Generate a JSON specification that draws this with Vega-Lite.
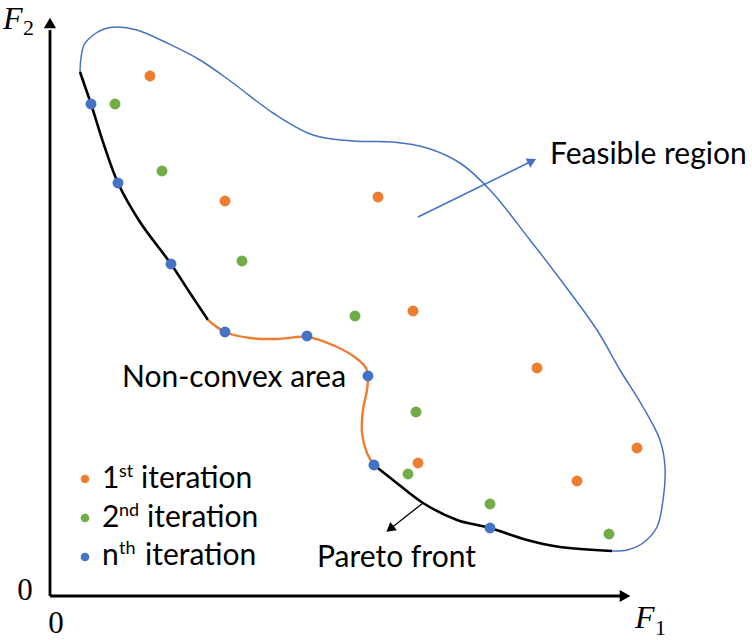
{
  "$schema": "https://vega.github.io/schema/vega-lite/v6.json",
  "width": 752,
  "height": 640,
  "autosize": {"type": "none"},
  "padding": 0,
  "background": "white",
  "config": {"view": {"stroke": null}},
  "datasets": {
    "feasible": [
      {"i": 0, "x": 30, "y": 524}, {"i": 1, "x": 31, "y": 538}, {"i": 2, "x": 34, "y": 551},
      {"i": 3, "x": 42, "y": 560}, {"i": 4, "x": 54, "y": 567}, {"i": 5, "x": 67, "y": 569},
      {"i": 6, "x": 87, "y": 566}, {"i": 7, "x": 117, "y": 553}, {"i": 8, "x": 150, "y": 536},
      {"i": 9, "x": 183, "y": 513}, {"i": 10, "x": 223, "y": 483}, {"i": 11, "x": 263, "y": 461},
      {"i": 12, "x": 303, "y": 455}, {"i": 13, "x": 343, "y": 454}, {"i": 14, "x": 377, "y": 448},
      {"i": 15, "x": 410, "y": 433}, {"i": 16, "x": 440, "y": 406}, {"i": 17, "x": 480, "y": 356},
      {"i": 18, "x": 513, "y": 313}, {"i": 19, "x": 547, "y": 266}, {"i": 20, "x": 570, "y": 226},
      {"i": 21, "x": 593, "y": 189}, {"i": 22, "x": 610, "y": 156}, {"i": 23, "x": 615, "y": 129},
      {"i": 24, "x": 613, "y": 96}, {"i": 25, "x": 607, "y": 69}, {"i": 26, "x": 593, "y": 53},
      {"i": 27, "x": 577, "y": 46}, {"i": 28, "x": 562, "y": 45}
    ],
    "paretoBlack": [
      {"seg": "a", "i": 0, "x": 30, "y": 524}, {"seg": "a", "i": 1, "x": 41, "y": 492},
      {"seg": "a", "i": 2, "x": 54, "y": 451}, {"seg": "a", "i": 3, "x": 68, "y": 413},
      {"seg": "a", "i": 4, "x": 90, "y": 374}, {"seg": "a", "i": 5, "x": 121, "y": 332},
      {"seg": "a", "i": 6, "x": 140, "y": 303}, {"seg": "a", "i": 7, "x": 158, "y": 276},
      {"seg": "b", "i": 0, "x": 324, "y": 131}, {"seg": "b", "i": 1, "x": 343, "y": 116},
      {"seg": "b", "i": 2, "x": 373, "y": 93}, {"seg": "b", "i": 3, "x": 407, "y": 76},
      {"seg": "b", "i": 4, "x": 440, "y": 68}, {"seg": "b", "i": 5, "x": 477, "y": 56},
      {"seg": "b", "i": 6, "x": 510, "y": 49}, {"seg": "b", "i": 7, "x": 562, "y": 45}
    ],
    "paretoOrange": [
      {"i": 0, "x": 158, "y": 276}, {"i": 1, "x": 175, "y": 264}, {"i": 2, "x": 200, "y": 258},
      {"i": 3, "x": 227, "y": 257}, {"i": 4, "x": 257, "y": 259}, {"i": 5, "x": 285, "y": 250},
      {"i": 6, "x": 306, "y": 238}, {"i": 7, "x": 316, "y": 228}, {"i": 8, "x": 318, "y": 220},
      {"i": 9, "x": 317, "y": 206}, {"i": 10, "x": 313, "y": 186}, {"i": 11, "x": 312, "y": 163},
      {"i": 12, "x": 317, "y": 143}, {"i": 13, "x": 324, "y": 131}
    ],
    "points": [
      {"iter": "1st", "x": 100, "y": 520}, {"iter": "1st", "x": 175, "y": 395},
      {"iter": "1st", "x": 328, "y": 399}, {"iter": "1st", "x": 363, "y": 285},
      {"iter": "1st", "x": 487, "y": 228}, {"iter": "1st", "x": 368, "y": 133},
      {"iter": "1st", "x": 587, "y": 148}, {"iter": "1st", "x": 527, "y": 115},
      {"iter": "2nd", "x": 65, "y": 492}, {"iter": "2nd", "x": 112, "y": 425},
      {"iter": "2nd", "x": 192, "y": 335}, {"iter": "2nd", "x": 305, "y": 280},
      {"iter": "2nd", "x": 366, "y": 184}, {"iter": "2nd", "x": 358, "y": 122},
      {"iter": "2nd", "x": 440, "y": 92}, {"iter": "2nd", "x": 559, "y": 62},
      {"iter": "nth", "x": 41, "y": 492}, {"iter": "nth", "x": 68, "y": 413},
      {"iter": "nth", "x": 121, "y": 332}, {"iter": "nth", "x": 175, "y": 264},
      {"iter": "nth", "x": 257, "y": 260}, {"iter": "nth", "x": 318, "y": 220},
      {"iter": "nth", "x": 324, "y": 131}, {"iter": "nth", "x": 440, "y": 68}
    ],
    "legend": [
      {"iter": "1st", "x": 35, "y": 117},
      {"iter": "2nd", "x": 35, "y": 78},
      {"iter": "nth", "x": 35, "y": 39}
    ],
    "axes": [
      {"x": 0, "y": 0, "x2": 0, "y2": 566},
      {"x": 0, "y": 0, "x2": 572, "y2": 0}
    ],
    "axisUp": [{"x": 0, "y": 573}],
    "axisRight": [{"x": 575, "y": 0}],
    "feasArrow": [{"x": 368, "y": 379, "x2": 482, "y2": 435}],
    "feasHead": [{"x": 482, "y": 435}],
    "paretoArrow": [{"x": 373, "y": 93, "x2": 340, "y2": 67}],
    "paretoHead": [{"x": 340, "y": 67}],
    "labels": [
      {"t": "Feasible region", "x": 500, "y": 432},
      {"t": "Non-convex area", "x": 72, "y": 209},
      {"t": "Pareto front", "x": 267, "y": 29},
      {"t": "1", "x": 52, "y": 108},
      {"t": "2", "x": 52, "y": 69},
      {"t": "n", "x": 52, "y": 31},
      {"t": "iteration", "x": 91, "y": 108},
      {"t": "iteration", "x": 97, "y": 69},
      {"t": "iteration", "x": 95, "y": 31}
    ],
    "sups": [
      {"t": "st", "x": 69, "y": 119},
      {"t": "nd", "x": 69, "y": 80},
      {"t": "th", "x": 69, "y": 42}
    ],
    "mathF": [
      {"t": "F", "x": -47, "y": 567},
      {"t": "F", "x": 585, "y": -32}
    ],
    "mathSub": [
      {"t": "2", "x": -27, "y": 561},
      {"t": "1", "x": 605, "y": -39}
    ],
    "zeros": [
      {"t": "0", "x": -25, "y": -4},
      {"t": "0", "x": 6, "y": -37}
    ]
  },
  "encoding": {
    "x": {"field": "x", "type": "quantitative", "axis": null,
          "scale": {"domain": [-50, 702], "nice": false, "zero": false}},
    "y": {"field": "y", "type": "quantitative", "axis": null,
          "scale": {"domain": [-44, 596], "nice": false, "zero": false}}
  },
  "layer": [
    {
      "data": {"name": "feasible"},
      "mark": {"type": "line", "interpolate": "catmull-rom", "stroke": "#4472C4", "strokeWidth": 1.5},
      "encoding": {"order": {"field": "i", "type": "quantitative"}}
    },
    {
      "data": {"name": "paretoBlack"},
      "mark": {"type": "line", "interpolate": "catmull-rom", "stroke": "black", "strokeWidth": 2.6},
      "encoding": {"order": {"field": "i", "type": "quantitative"}, "detail": {"field": "seg"}}
    },
    {
      "data": {"name": "paretoOrange"},
      "mark": {"type": "line", "interpolate": "catmull-rom", "stroke": "#ED7D31", "strokeWidth": 2.4},
      "encoding": {"order": {"field": "i", "type": "quantitative"}}
    },
    {
      "data": {"name": "axes"},
      "mark": {"type": "rule", "stroke": "black", "strokeWidth": 2.8},
      "encoding": {"x2": {"field": "x2"}, "y2": {"field": "y2"}}
    },
    {
      "data": {"name": "axisUp"},
      "mark": {"type": "point", "shape": "triangle-up", "filled": true, "color": "black", "size": 150, "opacity": 1},
      "encoding": {}
    },
    {
      "data": {"name": "axisRight"},
      "mark": {"type": "point", "shape": "triangle-right", "filled": true, "color": "black", "size": 150, "opacity": 1},
      "encoding": {}
    },
    {
      "data": {"name": "feasArrow"},
      "mark": {"type": "rule", "stroke": "#4472C4", "strokeWidth": 1.6},
      "encoding": {"x2": {"field": "x2"}, "y2": {"field": "y2"}}
    },
    {
      "data": {"name": "feasHead"},
      "mark": {"type": "point", "shape": "triangle-up", "filled": true, "color": "#4472C4", "size": 110, "angle": 63, "opacity": 1},
      "encoding": {}
    },
    {
      "data": {"name": "paretoArrow"},
      "mark": {"type": "rule", "stroke": "black", "strokeWidth": 1.3},
      "encoding": {"x2": {"field": "x2"}, "y2": {"field": "y2"}}
    },
    {
      "data": {"name": "paretoHead"},
      "mark": {"type": "point", "shape": "triangle-up", "filled": true, "color": "black", "size": 110, "angle": 232, "opacity": 1},
      "encoding": {}
    },
    {
      "data": {"name": "points"},
      "mark": {"type": "circle", "size": 120, "opacity": 1},
      "encoding": {
        "color": {"field": "iter", "type": "nominal", "legend": null,
                  "scale": {"domain": ["1st", "2nd", "nth"], "range": ["#ED7D31", "#70AD47", "#4472C4"]}}
      }
    },
    {
      "data": {"name": "legend"},
      "mark": {"type": "circle", "size": 75, "opacity": 1},
      "encoding": {
        "color": {"field": "iter", "type": "nominal", "legend": null}
      }
    },
    {
      "data": {"name": "labels"},
      "mark": {"type": "text", "font": "Lato", "fontSize": 30, "align": "left", "baseline": "alphabetic", "color": "black"},
      "encoding": {"text": {"field": "t"}}
    },
    {
      "data": {"name": "sups"},
      "mark": {"type": "text", "font": "Lato", "fontSize": 18, "align": "left", "baseline": "alphabetic", "color": "black"},
      "encoding": {"text": {"field": "t"}}
    },
    {
      "data": {"name": "mathF"},
      "mark": {"type": "text", "font": "Liberation Serif", "fontStyle": "italic", "fontSize": 32, "align": "left", "baseline": "alphabetic", "color": "black"},
      "encoding": {"text": {"field": "t"}}
    },
    {
      "data": {"name": "mathSub"},
      "mark": {"type": "text", "font": "Liberation Serif", "fontSize": 22, "align": "left", "baseline": "alphabetic", "color": "black"},
      "encoding": {"text": {"field": "t"}}
    },
    {
      "data": {"name": "zeros"},
      "mark": {"type": "text", "font": "Liberation Serif", "fontSize": 31, "align": "center", "baseline": "alphabetic", "color": "black"},
      "encoding": {"text": {"field": "t"}}
    }
  ]
}
